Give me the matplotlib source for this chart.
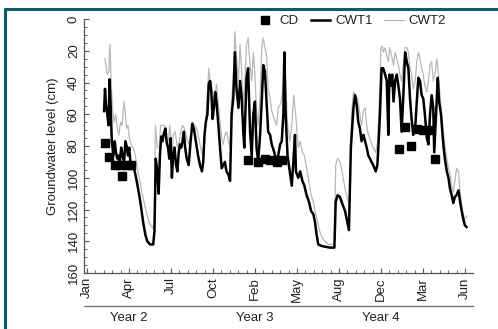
import matplotlib
matplotlib.use("Agg")
import matplotlib.pyplot as plt
import numpy as np
from matplotlib.lines import Line2D
from matplotlib.ticker import FixedLocator, MultipleLocator
import matplotlib.transforms as mtransforms

# x values are weeks from the first tick (Jan of Year 2); depth in cm
TICK_WEEKS = [0, 13, 26, 39, 52, 65, 78, 91, 104, 117]
TICK_LABELS = ["Jan", "Apr", "Jul", "Oct", "Feb", "May", "Aug", "Dec", "Mar", "Jun"]
YEAR_WEEKS = [13, 52, 91]
YEAR_LABELS = ["Year 2", "Year 3", "Year 4"]

cwt1_week = [
    5.3, 5.6, 5.9, 6.3, 6.7, 7.0, 7.3, 7.7, 8.2, 8.6,
    9.0, 9.4, 9.8, 10.2, 10.6, 11.0, 11.5, 11.9, 12.3, 12.7,
    13.1, 13.5, 14.1, 14.8, 15.4, 16.2, 16.8, 17.4, 18.1, 18.7,
    19.5, 20.5, 20.9, 21.3, 21.7, 22.2, 22.6, 23.0, 23.4, 23.8,
    24.3, 24.7, 25.1, 25.5, 25.9, 26.3, 26.7, 27.1, 27.6, 28.0,
    28.4, 28.8, 29.2, 29.6, 30.0, 30.4, 30.9, 31.5, 32.1, 32.6,
    33.1, 33.7, 34.4, 35.0, 35.6, 36.0, 36.4, 36.8, 37.3, 37.7,
    38.1, 38.5, 38.9, 39.3, 39.7, 40.1, 40.7, 41.2, 41.7, 42.2,
    42.7, 43.2, 43.8, 44.3, 44.8, 45.3, 45.8, 46.3, 46.9, 47.4,
    47.9, 48.4, 48.7, 49.4, 49.9, 50.5, 51.0, 51.5, 52.0, 52.5,
    53.0, 53.6, 54.1, 54.6, 55.1, 55.6, 56.1, 56.7, 57.2, 58.0,
    58.7, 59.2, 59.8, 60.3, 60.8, 61.1, 61.5, 62.1, 62.8, 63.4,
    63.9, 64.4, 64.7, 65.4, 66.0, 66.7, 67.3, 68.0, 68.7, 69.4,
    70.1, 70.6, 71.1, 71.6, 72.7, 75.2, 76.6, 77.0, 77.6, 78.3,
    78.8, 79.9, 80.4, 81.1, 81.7, 82.5, 83.0, 83.5, 84.0, 84.5,
    85.0, 85.6, 86.1, 86.6, 87.1, 87.6, 88.1, 88.6, 89.4, 89.9,
    90.2, 90.7, 91.2, 91.7, 92.3, 92.8, 93.3, 93.6, 94.1, 94.5,
    94.9, 95.4, 95.9, 96.4, 96.9, 97.4, 97.9, 98.5, 99.0, 99.5,
    100.0, 100.5, 101.0, 101.6, 102.1, 102.6, 103.1, 103.6, 104.1, 104.6,
    105.2, 105.7, 106.2, 106.7, 107.2, 107.5, 107.9, 108.6, 109.0, 109.6,
    110.0, 110.4, 110.8, 111.4, 111.9, 112.4, 112.9, 113.4, 113.9, 114.4,
    115.0, 115.5, 116.0, 116.5, 117.0, 117.5,
]
cwt1_depth = [
    58, 44, 54, 60, 67, 38, 52, 77, 86, 77,
    84, 88, 86, 90, 81, 86, 90, 77, 80, 86,
    81, 91, 93, 96, 102, 111, 119, 128, 136, 140,
    142, 142, 134, 88, 94, 110, 86, 74, 77, 72,
    69, 78, 81, 88, 75, 100, 86, 81, 92, 96,
    84, 79, 81, 77, 71, 81, 88, 92, 77, 66,
    69, 77, 86, 92, 96, 90, 73, 65, 60, 41,
    39, 46, 63, 56, 46, 52, 67, 81, 94, 92,
    90, 96, 98, 102, 60, 50, 21, 44, 56, 39,
    50, 71, 81, 37, 31, 71, 86, 60, 52, 81,
    90, 73, 52, 29, 33, 52, 71, 73, 79, 84,
    90, 86, 79, 77, 60, 21, 60, 86, 96, 105,
    90, 73, 96, 100, 96, 102, 105, 111, 115, 121,
    123, 128, 136, 142, 143, 144, 144, 115, 111, 112,
    115, 121, 126, 133, 81, 56, 48, 54, 65, 69,
    77, 73, 77, 81, 86, 88, 90, 92, 96, 92,
    81, 60, 31, 31, 35, 39, 73, 35, 42, 35,
    52, 39, 35, 42, 50, 71, 50, 21, 27, 31,
    50, 63, 73, 69, 52, 37, 39, 48, 50, 60,
    75, 79, 60, 48, 56, 84, 67, 37, 52, 60,
    71, 81, 88, 96, 100, 107, 111, 116, 112, 111,
    108, 115, 121, 126, 130, 131,
]

cwt2_week = [
    5.5, 5.9, 6.3, 6.8, 7.1, 7.5, 7.9, 8.4, 8.9, 9.4,
    9.9, 10.4, 10.9, 11.5, 11.9, 12.3, 12.7, 13.1, 13.7, 14.3,
    15.0, 15.6, 16.4, 17.2, 18.1, 18.9, 19.7, 20.5, 20.9, 21.2,
    21.8, 22.4, 22.8, 23.4, 24.0, 24.7, 25.1, 25.7, 26.3, 26.7,
    27.3, 28.0, 28.6, 29.2, 29.6, 30.2, 30.9, 31.5, 32.1, 32.7,
    33.3, 34.0, 34.6, 35.2, 35.8, 36.2, 36.8, 37.3, 37.7, 38.1,
    38.5, 38.9, 39.5, 40.1, 40.7, 41.2, 41.7, 42.2, 42.7, 43.2,
    43.8, 44.3, 44.8, 45.3, 45.8, 46.3, 46.9, 47.4, 47.9, 48.4,
    48.9, 49.4, 49.9, 50.5, 51.0, 51.5, 52.0, 52.5, 53.0, 53.6,
    54.1, 54.6, 55.1, 55.6, 56.1, 56.7, 57.2, 58.0, 58.7, 59.2,
    59.8, 60.3, 60.8, 61.1, 61.5, 62.1, 62.8, 63.4, 64.0, 64.6,
    65.4, 66.0, 66.7, 67.3, 68.0, 68.7, 69.4, 70.1, 70.6, 71.4,
    72.1, 72.9, 73.7, 74.7, 76.6, 77.0, 77.6, 78.3, 78.8, 79.9,
    80.9, 81.3, 81.9, 82.5, 83.2, 83.8, 84.5, 85.0, 85.6, 86.1,
    86.6, 87.1, 87.9, 88.6, 89.4, 90.0, 90.5, 91.0, 91.4, 91.8,
    92.3, 92.8, 93.3, 93.7, 94.3, 94.9, 95.4, 95.9, 96.4, 96.9,
    97.4, 97.9, 98.5, 99.0, 99.5, 100.0, 100.5, 101.0, 101.6, 102.1,
    102.6, 103.1, 103.6, 104.1, 104.6, 105.2, 105.7, 106.2, 106.7, 107.2,
    107.7, 108.3, 108.8, 109.3, 109.8, 110.3, 110.8, 111.4, 111.9, 112.4,
    112.9, 113.4, 113.9, 114.4, 115.0, 115.5, 116.0, 116.5, 117.0, 117.8,
]
cwt2_depth = [
    25, 29, 35, 33, 16, 39, 56, 65, 60, 69,
    73, 65, 67, 52, 60, 69, 67, 75, 79, 81,
    86, 94, 102, 111, 119, 126, 130, 132, 123, 67,
    81, 81, 67, 67, 67, 75, 79, 67, 86, 73,
    71, 81, 77, 69, 67, 69, 75, 79, 73, 65,
    67, 69, 75, 81, 86, 77, 63, 46, 31, 39,
    39, 48, 52, 41, 54, 65, 75, 79, 73, 71,
    77, 81, 50, 39, 8, 25, 39, 16, 33, 56,
    39, 16, 12, 29, 39, 21, 35, 58, 67, 48,
    18, 12, 18, 23, 44, 50, 58, 63, 67, 56,
    54, 50, 39, 21, 39, 67, 77, 67, 48, 60,
    81, 77, 84, 86, 94, 102, 111, 115, 121, 128,
    134, 138, 140, 142, 142, 92, 88, 90, 94, 107,
    115, 120, 60, 46, 48, 50, 60, 67, 58, 56,
    67, 73, 77, 81, 84, 77, 50, 18, 17, 21,
    18, 23, 27, 18, 23, 29, 21, 25, 29, 35,
    39, 29, 18, 18, 21, 31, 35, 44, 39, 27,
    21, 25, 31, 35, 42, 46, 39, 29, 27, 39,
    35, 25, 35, 48, 60, 71, 79, 88, 94, 98,
    105, 109, 102, 94, 96, 109, 117, 123, 126, 124,
]

cd_week = [5.5, 6.8, 8.6, 10.2, 10.9, 12.3, 13.7,
           49.9, 53.0, 55.1, 56.6, 58.7, 60.3,
           96.6, 98.6, 100.2, 102.2, 104.1, 106.2, 107.8]
cd_depth = [78, 87, 92, 92, 99, 92, 92,
            89, 90, 88, 89, 90, 89,
            82, 68, 80, 69, 70, 70, 88]

TEXT_COLOR = "#222222"
FRAME_COLOR = "#0b5e66"
FONT_SIZE = 9.5

plt.rcParams["font.family"] = ["Liberation Sans", "DejaVu Sans"]
plt.rcParams["font.size"] = FONT_SIZE

fig = plt.figure(figsize=(4.98, 3.29), dpi=100)
ax = fig.add_axes([0.1687, 0.1702, 0.7811, 0.772])

ax.plot(cwt2_week, cwt2_depth, color="#b8b8b8", lw=0.9, label="CWT2", zorder=2)
ax.plot(cwt1_week, cwt1_depth, color="black", lw=1.8, label="CWT1", zorder=3)
ax.plot(cd_week, cd_depth, ls="none", marker="s", ms=6.2, color="black",
        label="CD", zorder=4)

ax.set_xlim(-0.9, 119.5)
ax.set_ylim(160, 0)

ax.xaxis.set_major_locator(FixedLocator(TICK_WEEKS))
ax.xaxis.set_minor_locator(MultipleLocator(2.6))
ax.set_xticklabels(TICK_LABELS, rotation=90, va="top")
ax.yaxis.set_major_locator(MultipleLocator(20))
ax.yaxis.set_minor_locator(MultipleLocator(5))
for lbl in ax.get_yticklabels():
    lbl.set_rotation(90)
    lbl.set_va("center")

ax.tick_params(which="both", direction="in", colors="#555555",
               labelcolor=TEXT_COLOR, labelsize=FONT_SIZE)
ax.tick_params(which="major", length=3.5, width=0.8)
ax.tick_params(which="minor", length=2, width=0.6)
ax.tick_params(axis="y", pad=3)
ax.tick_params(axis="x", pad=3)

for side in ["top", "right"]:
    ax.spines[side].set_visible(False)
for side in ["left", "bottom"]:
    ax.spines[side].set_color("#555555")
    ax.spines[side].set_linewidth(0.9)

fig.text(53 / 498, 1 - 146 / 329, "Groundwater level (cm)", rotation=90,
         ha="center", va="center", color=TEXT_COLOR, fontsize=FONT_SIZE)

# year band below the month labels
fig.add_artist(Line2D([0.1687, 0.9498], [0.0708, 0.0708], color="#777777", lw=1.0))
trans = mtransforms.blended_transform_factory(ax.transData, fig.transFigure)
for wk, name in zip(YEAR_WEEKS, YEAR_LABELS):
    ax.text(wk, 0.033, name, transform=trans, ha="center", va="center",
            color=TEXT_COLOR, fontsize=FONT_SIZE, clip_on=False)

handles, labels = ax.get_legend_handles_labels()
order = [2, 1, 0]
fig.legend([handles[i] for i in order], [labels[i] for i in order],
           loc="center", bbox_to_anchor=(0.704, 0.936), ncol=3, frameon=False,
           handlelength=1.5, handletextpad=0.35, columnspacing=0.9,
           fontsize=FONT_SIZE, labelcolor=TEXT_COLOR, borderpad=0)

# partial frame around the figure (top and left edges)
fig.add_artist(Line2D([4 / 498, 1.0], [1 - 9 / 329, 1 - 9 / 329],
                      color=FRAME_COLOR, lw=2.2, solid_capstyle="butt"))
fig.add_artist(Line2D([5 / 498, 5 / 498], [0, 1 - 8 / 329],
                      color=FRAME_COLOR, lw=2.2, solid_capstyle="butt"))

fig.savefig("out.png", dpi=100)
